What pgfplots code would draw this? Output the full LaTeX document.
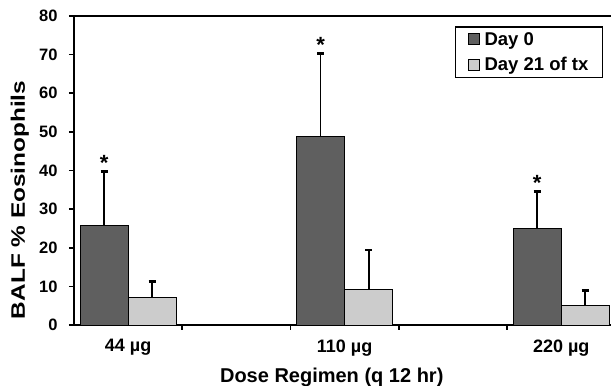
\documentclass[border=0pt]{standalone}
\usepackage{fontspec}
\setmainfont{Liberation Sans}
\newfontfamily\ylabfont{Liberation Sans}[FakeStretch=1.25]
\usepackage{pgfplots}
\usetikzlibrary{calc}
\pgfplotsset{compat=1.18}
\definecolor{darkbar}{HTML}{5F5F5F}
\definecolor{lightbar}{HTML}{CCCCCC}
\pgfplotsset{
  my legend/.style={legend image code/.code={\draw[##1,line width=0.8pt] (0pt,-5.5pt) rectangle (11pt,5.5pt);}},
}
\begin{document}
\begin{tikzpicture}
\begin{axis}[
  scale only axis, width=537pt, height=309pt,
  xmin=-0.5, xmax=4.46, ymin=0, ymax=80,
  axis lines*=left,
  axis line style={line width=1.6pt},
  ytick={0,10,...,80},
  xtick={0.5,1.5,2.5,3.5}, xticklabels={},
  extra x ticks={0,2,4},
  extra x tick labels={44 µg,110 µg,220 µg},
  extra x tick style={major tick length=0pt},
  tick align=outside, major tick length=5pt,
  tick style={line width=1.6pt, black},
  /pgf/number format/assume math mode=true,
  yticklabel style={font=\fontsize{16.5}{17}\selectfont\bfseries, xshift=-8pt},
  xticklabel style={font=\fontsize{18}{19}\selectfont\bfseries, yshift=-11pt},
  ylabel={BALF \% Eosinophils},
  ylabel style={font=\ylabfont\bfseries\fontsize{19.5}{20}\selectfont,
    at={($(rel axis cs:0,0.405)+(-45pt,0pt)$)}, anchor=south, inner sep=0pt},
  xlabel={Dose Regimen (q 12 hr)},
  xlabel style={font=\fontsize{20}{21}\selectfont\bfseries, at={(ticklabel cs:0.48)}},
  legend style={at={(0.985,0.966)}, anchor=north east, draw=black, line width=1.2pt,
    font=\fontsize{18.5}{20}\selectfont\bfseries, row sep=7pt, inner xsep=12pt, inner ysep=3pt},
  legend cell align=left,
]
\addplot[ybar, bar width=0.444, bar shift=0pt, fill=darkbar, draw=black, line width=0.9pt, my legend,
  error bars/.cd, y dir=plus, y explicit,
  error bar style={line width=1.6pt, black},
  error mark options={rotate=90, line width=2.8pt, mark size=3.5pt, black}]
  coordinates {(-0.222,25.7) +- (0,14.0) (1.778,48.8) +- (0,21.5) (3.778,25.0) +- (0,9.5)};
\addlegendentry{\hspace{3pt}Day 0}
\addplot[ybar, bar width=0.444, bar shift=0pt, fill=lightbar, draw=black, line width=0.9pt, my legend,
  error bars/.cd, y dir=plus, y explicit,
  error bar style={line width=1.6pt, black},
  error mark options={rotate=90, line width=2.8pt, mark size=3.5pt, black}]
  coordinates {(0.222,7.1) +- (0,4.1) (2.222,9.2) +- (0,10.2) (4.222,5.0) +- (0,3.9)};
\addlegendentry{\hspace{3pt}Day 21 of tx}
\addplot[draw=none, mark=none, forget plot,
  nodes near coords={\fontsize{22}{22}\selectfont\bfseries *},
  every node near coord/.append style={anchor=south, inner sep=0pt, yshift=1pt}]
  coordinates {(-0.222,39.7) (1.778,70.3) (3.778,34.5)};
\coordinate (BL) at (rel axis cs:0,0);
\coordinate (TR) at (rel axis cs:1,1);
\draw[line width=1.6pt] (rel axis cs:0,1) -- (rel axis cs:1,1);
\end{axis}
\pgfresetboundingbox
\path[use as bounding box] ([xshift=-74pt,yshift=-61pt]BL) rectangle ([yshift=16pt]TR);
\end{tikzpicture}
\end{document}
